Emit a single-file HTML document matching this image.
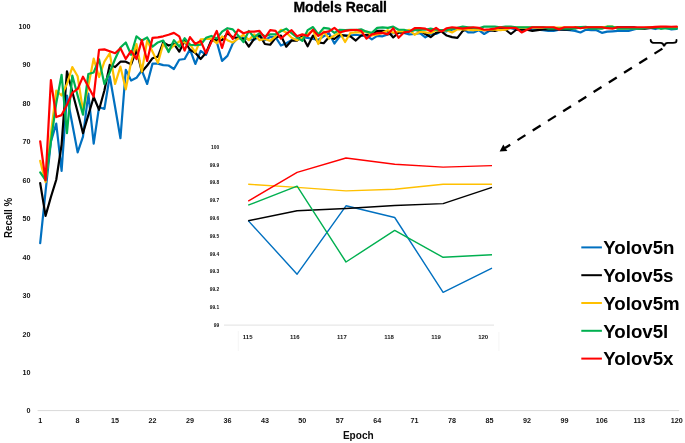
<!DOCTYPE html><html><head><meta charset="utf-8"><style>html,body{margin:0;padding:0;background:#fff;}svg{display:block;filter:blur(0.35px);}</style></head><body>
<svg width="685" height="443" viewBox="0 0 685 443">
<rect width="685" height="443" fill="#fff"/>
<text x="340.2" y="12.0" font-size="14.2" textLength="93.6" lengthAdjust="spacingAndGlyphs" text-anchor="middle" font-family="Liberation Sans, sans-serif" font-weight="bold" fill="#000" stroke="#000" stroke-width="0.3" style="font-family:'Liberation Sans',sans-serif">Models Recall</text>
<text x="30.6" y="413.4" font-size="7.2" text-anchor="end" font-family="Liberation Sans, sans-serif" font-weight="bold" fill="#141414" style="font-family:'Liberation Sans',sans-serif">0</text>
<text x="30.6" y="375.0" font-size="7.2" text-anchor="end" font-family="Liberation Sans, sans-serif" font-weight="bold" fill="#141414" style="font-family:'Liberation Sans',sans-serif">10</text>
<text x="30.6" y="336.5" font-size="7.2" text-anchor="end" font-family="Liberation Sans, sans-serif" font-weight="bold" fill="#141414" style="font-family:'Liberation Sans',sans-serif">20</text>
<text x="30.6" y="298.1" font-size="7.2" text-anchor="end" font-family="Liberation Sans, sans-serif" font-weight="bold" fill="#141414" style="font-family:'Liberation Sans',sans-serif">30</text>
<text x="30.6" y="259.6" font-size="7.2" text-anchor="end" font-family="Liberation Sans, sans-serif" font-weight="bold" fill="#141414" style="font-family:'Liberation Sans',sans-serif">40</text>
<text x="30.6" y="221.2" font-size="7.2" text-anchor="end" font-family="Liberation Sans, sans-serif" font-weight="bold" fill="#141414" style="font-family:'Liberation Sans',sans-serif">50</text>
<text x="30.6" y="182.7" font-size="7.2" text-anchor="end" font-family="Liberation Sans, sans-serif" font-weight="bold" fill="#141414" style="font-family:'Liberation Sans',sans-serif">60</text>
<text x="30.6" y="144.3" font-size="7.2" text-anchor="end" font-family="Liberation Sans, sans-serif" font-weight="bold" fill="#141414" style="font-family:'Liberation Sans',sans-serif">70</text>
<text x="30.6" y="105.8" font-size="7.2" text-anchor="end" font-family="Liberation Sans, sans-serif" font-weight="bold" fill="#141414" style="font-family:'Liberation Sans',sans-serif">80</text>
<text x="30.6" y="67.3" font-size="7.2" text-anchor="end" font-family="Liberation Sans, sans-serif" font-weight="bold" fill="#141414" style="font-family:'Liberation Sans',sans-serif">90</text>
<text x="30.6" y="28.9" font-size="7.2" text-anchor="end" font-family="Liberation Sans, sans-serif" font-weight="bold" fill="#141414" style="font-family:'Liberation Sans',sans-serif">100</text>
<text x="40.2" y="422.9" font-size="7.2" text-anchor="middle" font-family="Liberation Sans, sans-serif" font-weight="bold" fill="#141414" style="font-family:'Liberation Sans',sans-serif">1</text>
<text x="77.6" y="422.9" font-size="7.2" text-anchor="middle" font-family="Liberation Sans, sans-serif" font-weight="bold" fill="#141414" style="font-family:'Liberation Sans',sans-serif">8</text>
<text x="115.1" y="422.9" font-size="7.2" text-anchor="middle" font-family="Liberation Sans, sans-serif" font-weight="bold" fill="#141414" style="font-family:'Liberation Sans',sans-serif">15</text>
<text x="152.5" y="422.9" font-size="7.2" text-anchor="middle" font-family="Liberation Sans, sans-serif" font-weight="bold" fill="#141414" style="font-family:'Liberation Sans',sans-serif">22</text>
<text x="190.0" y="422.9" font-size="7.2" text-anchor="middle" font-family="Liberation Sans, sans-serif" font-weight="bold" fill="#141414" style="font-family:'Liberation Sans',sans-serif">29</text>
<text x="227.4" y="422.9" font-size="7.2" text-anchor="middle" font-family="Liberation Sans, sans-serif" font-weight="bold" fill="#141414" style="font-family:'Liberation Sans',sans-serif">36</text>
<text x="264.9" y="422.9" font-size="7.2" text-anchor="middle" font-family="Liberation Sans, sans-serif" font-weight="bold" fill="#141414" style="font-family:'Liberation Sans',sans-serif">43</text>
<text x="302.3" y="422.9" font-size="7.2" text-anchor="middle" font-family="Liberation Sans, sans-serif" font-weight="bold" fill="#141414" style="font-family:'Liberation Sans',sans-serif">50</text>
<text x="339.7" y="422.9" font-size="7.2" text-anchor="middle" font-family="Liberation Sans, sans-serif" font-weight="bold" fill="#141414" style="font-family:'Liberation Sans',sans-serif">57</text>
<text x="377.2" y="422.9" font-size="7.2" text-anchor="middle" font-family="Liberation Sans, sans-serif" font-weight="bold" fill="#141414" style="font-family:'Liberation Sans',sans-serif">64</text>
<text x="414.6" y="422.9" font-size="7.2" text-anchor="middle" font-family="Liberation Sans, sans-serif" font-weight="bold" fill="#141414" style="font-family:'Liberation Sans',sans-serif">71</text>
<text x="452.1" y="422.9" font-size="7.2" text-anchor="middle" font-family="Liberation Sans, sans-serif" font-weight="bold" fill="#141414" style="font-family:'Liberation Sans',sans-serif">78</text>
<text x="489.5" y="422.9" font-size="7.2" text-anchor="middle" font-family="Liberation Sans, sans-serif" font-weight="bold" fill="#141414" style="font-family:'Liberation Sans',sans-serif">85</text>
<text x="527.0" y="422.9" font-size="7.2" text-anchor="middle" font-family="Liberation Sans, sans-serif" font-weight="bold" fill="#141414" style="font-family:'Liberation Sans',sans-serif">92</text>
<text x="564.4" y="422.9" font-size="7.2" text-anchor="middle" font-family="Liberation Sans, sans-serif" font-weight="bold" fill="#141414" style="font-family:'Liberation Sans',sans-serif">99</text>
<text x="601.8" y="422.9" font-size="7.2" text-anchor="middle" font-family="Liberation Sans, sans-serif" font-weight="bold" fill="#141414" style="font-family:'Liberation Sans',sans-serif">106</text>
<text x="639.3" y="422.9" font-size="7.2" text-anchor="middle" font-family="Liberation Sans, sans-serif" font-weight="bold" fill="#141414" style="font-family:'Liberation Sans',sans-serif">113</text>
<text x="676.7" y="422.9" font-size="7.2" text-anchor="middle" font-family="Liberation Sans, sans-serif" font-weight="bold" fill="#141414" style="font-family:'Liberation Sans',sans-serif">120</text>
<line x1="37.6" y1="410.6" x2="679.2" y2="410.6" stroke="#d9d9d9" stroke-width="1"/>
<text transform="translate(12.1,217.9) rotate(-90)" x="0" y="0" font-size="10.4" textLength="40.2" lengthAdjust="spacingAndGlyphs" text-anchor="middle" font-family="Liberation Sans, sans-serif" font-weight="bold" fill="#0d0d0d" style="font-family:'Liberation Sans',sans-serif">Recall %</text>
<text x="358.3" y="438.8" font-size="10.2" textLength="30.8" lengthAdjust="spacingAndGlyphs" text-anchor="middle" font-family="Liberation Sans, sans-serif" font-weight="bold" fill="#0d0d0d" style="font-family:'Liberation Sans',sans-serif">Epoch</text>
<polyline points="40.20,243.16 45.55,191.64 50.90,141.65 56.25,123.58 61.60,170.87 66.95,95.51 72.29,123.96 77.64,152.42 82.99,136.65 88.34,93.59 93.69,143.57 99.04,107.05 104.39,108.97 109.74,76.29 115.09,107.05 120.44,138.19 125.78,69.75 131.13,80.51 136.48,77.82 141.83,70.52 147.18,83.98 152.53,63.60 157.88,63.60 163.23,65.13 168.58,65.52 173.93,68.98 179.27,59.75 184.62,58.98 189.97,49.37 195.32,63.98 200.67,50.91 206.02,54.75 211.37,40.53 216.72,41.68 222.07,60.91 227.42,55.91 232.76,43.60 238.11,37.45 243.46,37.84 248.81,39.37 254.16,39.76 259.51,36.30 264.86,40.14 270.21,37.07 275.56,37.07 280.91,45.53 286.25,43.22 291.60,40.14 296.95,39.37 302.30,37.07 307.65,37.84 313.00,38.99 318.35,39.76 323.70,36.30 329.05,33.22 334.39,43.60 339.74,36.30 345.09,35.53 350.44,35.53 355.79,34.76 361.14,35.53 366.49,35.53 371.84,39.37 377.19,35.91 382.54,36.30 387.88,34.37 393.23,33.22 398.58,32.45 403.93,32.84 409.28,34.37 414.63,33.99 419.98,33.22 425.33,37.45 430.68,33.99 436.03,33.99 441.38,31.30 446.72,31.30 452.07,29.76 457.42,28.61 462.77,28.61 468.12,32.45 473.47,32.45 478.82,30.15 484.17,33.99 489.52,30.91 494.87,29.38 500.21,28.61 505.56,28.22 510.91,28.22 516.26,29.38 521.61,29.38 526.96,29.38 532.31,29.76 537.66,29.76 543.01,30.15 548.36,30.91 553.70,30.91 559.05,29.76 564.40,29.76 569.75,30.15 575.10,30.91 580.45,32.45 585.80,29.76 591.15,30.15 596.50,30.15 601.85,32.84 607.19,31.68 612.54,31.30 617.89,30.91 623.24,30.91 628.59,30.91 633.94,29.38 639.29,28.22 644.64,28.22 649.99,27.88 655.34,29.03 660.68,27.57 666.03,27.84 671.38,29.41 676.73,28.88" fill="none" stroke="#0070C0" stroke-width="2.2" stroke-linejoin="round" stroke-linecap="round"/>
<polyline points="40.20,183.18 45.55,215.86 50.90,197.02 56.25,179.72 61.60,144.73 66.95,71.29 72.29,91.67 77.64,112.04 82.99,133.19 88.34,115.12 93.69,97.05 99.04,109.74 104.39,90.51 109.74,64.75 115.09,67.06 120.44,61.67 125.78,61.67 131.13,64.37 136.48,49.75 141.83,71.67 147.18,65.52 152.53,58.21 157.88,56.68 163.23,42.45 168.58,45.53 173.93,43.99 179.27,51.68 184.62,40.91 189.97,49.75 195.32,52.83 200.67,58.98 206.02,52.83 211.37,40.14 216.72,40.14 222.07,40.14 227.42,33.22 232.76,37.45 238.11,37.84 243.46,38.99 248.81,46.68 254.16,38.99 259.51,34.76 264.86,43.99 270.21,44.76 275.56,37.84 280.91,35.53 286.25,46.68 291.60,40.53 296.95,40.53 302.30,36.30 307.65,46.29 313.00,35.53 318.35,42.45 323.70,43.22 329.05,37.07 334.39,38.99 339.74,34.76 345.09,35.53 350.44,36.30 355.79,40.53 361.14,35.53 366.49,34.76 371.84,34.76 377.19,30.91 382.54,30.91 387.88,31.30 393.23,37.45 398.58,32.45 403.93,32.45 409.28,31.30 414.63,29.76 419.98,30.91 425.33,33.99 430.68,37.07 436.03,32.84 441.38,31.30 446.72,35.53 452.07,37.07 457.42,37.84 462.77,30.91 468.12,28.22 473.47,29.38 478.82,29.76 484.17,30.15 489.52,30.15 494.87,30.91 500.21,29.38 505.56,29.76 510.91,33.99 516.26,29.76 521.61,29.76 526.96,29.76 532.31,30.91 537.66,30.15 543.01,29.38 548.36,29.38 553.70,29.38 559.05,29.38 564.40,29.76 569.75,29.38 575.10,27.45 580.45,27.45 585.80,27.45 591.15,27.45 596.50,27.45 601.85,27.45 607.19,27.45 612.54,27.45 617.89,27.45 623.24,27.45 628.59,27.45 633.94,27.45 639.29,28.61 644.64,28.61 649.99,27.88 655.34,27.68 660.68,27.61 666.03,27.53 671.38,27.49 676.73,27.15" fill="none" stroke="#000000" stroke-width="2.2" stroke-linejoin="round" stroke-linecap="round"/>
<polyline points="40.20,160.88 45.55,182.02 50.90,133.96 56.25,90.51 61.60,95.51 66.95,83.98 72.29,67.06 77.64,76.29 82.99,110.89 88.34,85.90 93.69,58.60 99.04,77.05 104.39,61.67 109.74,53.22 115.09,83.98 120.44,66.67 125.78,89.36 131.13,62.06 136.48,43.99 141.83,71.67 147.18,40.53 152.53,51.68 157.88,62.83 163.23,43.99 168.58,50.52 173.93,45.53 179.27,41.30 184.62,42.45 189.97,44.37 195.32,52.45 200.67,39.37 206.02,38.99 211.37,38.60 216.72,43.22 222.07,36.30 227.42,40.14 232.76,42.45 238.11,38.60 243.46,34.76 248.81,40.14 254.16,34.37 259.51,40.14 264.86,38.99 270.21,40.91 275.56,36.30 280.91,29.76 286.25,32.45 291.60,37.84 296.95,40.14 302.30,37.84 307.65,34.37 313.00,30.15 318.35,43.99 323.70,31.30 329.05,38.60 334.39,35.53 339.74,32.45 345.09,42.06 350.44,32.84 355.79,32.45 361.14,32.45 366.49,31.30 371.84,35.53 377.19,34.37 382.54,32.84 387.88,30.15 393.23,32.84 398.58,31.30 403.93,31.30 409.28,29.76 414.63,34.76 419.98,31.68 425.33,32.45 430.68,33.22 436.03,30.15 441.38,30.91 446.72,30.15 452.07,32.45 457.42,29.38 462.77,29.38 468.12,29.76 473.47,30.15 478.82,29.76 484.17,30.15 489.52,29.76 494.87,29.76 500.21,30.15 505.56,29.76 510.91,27.65 516.26,27.65 521.61,27.65 526.96,27.65 532.31,27.65 537.66,27.65 543.01,27.65 548.36,27.65 553.70,27.65 559.05,27.65 564.40,27.65 569.75,27.65 575.10,27.65 580.45,27.65 585.80,27.65 591.15,27.65 596.50,27.65 601.85,27.65 607.19,26.68 612.54,26.68 617.89,28.22 623.24,28.22 628.59,28.22 633.94,28.22 639.29,28.22 644.64,27.84 649.99,27.11 655.34,27.18 660.68,27.26 666.03,27.22 671.38,27.11 676.73,27.11" fill="none" stroke="#FFC000" stroke-width="2.2" stroke-linejoin="round" stroke-linecap="round"/>
<polyline points="40.20,172.41 45.55,180.10 50.90,141.65 56.25,103.20 61.60,74.75 66.95,133.19 72.29,75.52 77.64,95.51 82.99,114.74 88.34,73.98 93.69,72.44 99.04,59.37 104.39,83.98 109.74,72.44 115.09,58.98 120.44,47.45 125.78,42.45 131.13,54.75 136.48,36.30 141.83,40.53 147.18,37.45 152.53,46.68 157.88,42.45 163.23,40.53 168.58,52.06 173.93,40.14 179.27,46.68 184.62,38.22 189.97,44.76 195.32,45.14 200.67,44.76 206.02,37.84 211.37,35.91 216.72,38.60 222.07,31.68 227.42,28.22 232.76,29.38 238.11,35.53 243.46,42.06 248.81,30.91 254.16,37.45 259.51,33.22 264.86,36.30 270.21,34.37 275.56,34.37 280.91,31.30 286.25,28.61 291.60,33.22 296.95,37.45 302.30,40.91 307.65,30.15 313.00,27.07 318.35,34.37 323.70,27.84 329.05,28.61 334.39,32.84 339.74,29.76 345.09,30.15 350.44,29.76 355.79,30.15 361.14,29.38 366.49,31.68 371.84,32.84 377.19,27.84 382.54,27.45 387.88,27.84 393.23,26.68 398.58,29.76 403.93,29.76 409.28,31.30 414.63,30.15 419.98,29.76 425.33,29.76 430.68,28.61 436.03,29.76 441.38,30.15 446.72,30.15 452.07,28.61 457.42,27.84 462.77,26.68 468.12,27.26 473.47,27.84 478.82,28.22 484.17,26.68 489.52,26.68 494.87,26.68 500.21,27.26 505.56,26.68 510.91,26.68 516.26,27.26 521.61,27.26 526.96,27.26 532.31,27.26 537.66,27.26 543.01,27.26 548.36,28.61 553.70,28.61 559.05,28.61 564.40,28.61 569.75,28.61 575.10,28.61 580.45,27.07 585.80,26.88 591.15,28.61 596.50,28.61 601.85,28.61 607.19,26.68 612.54,26.68 617.89,28.61 623.24,28.61 628.59,28.61 633.94,28.61 639.29,28.61 644.64,28.22 649.99,27.57 655.34,27.15 660.68,28.80 666.03,28.11 671.38,28.68 676.73,28.61" fill="none" stroke="#00B050" stroke-width="2.2" stroke-linejoin="round" stroke-linecap="round"/>
<polyline points="40.20,141.27 45.55,180.10 50.90,80.13 56.25,117.04 61.60,115.12 66.95,104.74 72.29,92.82 77.64,88.97 82.99,76.67 88.34,86.67 93.69,96.66 99.04,49.75 104.39,49.37 109.74,51.29 115.09,53.22 120.44,48.22 125.78,58.98 131.13,50.91 136.48,58.98 141.83,40.14 147.18,60.91 152.53,37.84 157.88,37.45 163.23,36.30 168.58,34.76 173.93,32.84 179.27,36.30 184.62,50.52 189.97,37.07 195.32,43.99 200.67,40.91 206.02,53.22 211.37,42.06 216.72,30.91 222.07,47.83 227.42,30.53 232.76,38.99 238.11,29.76 243.46,33.22 248.81,31.68 254.16,31.68 259.51,30.91 264.86,37.84 270.21,30.15 275.56,30.91 280.91,38.60 286.25,33.99 291.60,30.15 296.95,36.30 302.30,34.37 307.65,35.91 313.00,29.76 318.35,35.91 323.70,32.45 329.05,31.30 334.39,27.84 339.74,32.45 345.09,30.91 350.44,30.15 355.79,29.76 361.14,30.91 366.49,38.60 371.84,34.37 377.19,33.22 382.54,32.84 387.88,34.37 393.23,28.22 398.58,37.84 403.93,32.45 409.28,31.68 414.63,28.22 419.98,28.22 425.33,28.61 430.68,31.30 436.03,27.84 441.38,31.68 446.72,28.22 452.07,27.26 457.42,27.84 462.77,28.61 468.12,27.84 473.47,27.26 478.82,27.84 484.17,29.76 489.52,29.38 494.87,28.61 500.21,27.26 505.56,27.84 510.91,27.84 516.26,28.22 521.61,32.45 526.96,29.76 532.31,27.26 537.66,27.26 543.01,27.26 548.36,27.26 553.70,27.26 559.05,29.38 564.40,27.26 569.75,27.26 575.10,27.26 580.45,28.22 585.80,27.26 591.15,27.26 596.50,27.26 601.85,27.26 607.19,28.22 612.54,28.61 617.89,27.26 623.24,27.26 628.59,27.26 633.94,27.26 639.29,27.26 644.64,27.26 649.99,27.45 655.34,26.84 660.68,26.53 666.03,26.68 671.38,26.76 676.73,26.72" fill="none" stroke="#FF0000" stroke-width="2.2" stroke-linejoin="round" stroke-linecap="round"/>
<path d="M650.7,39.9 C650.7,42.4 652,42.9 655,42.9 L660.5,42.9 C662.8,42.9 663.6,44 664.1,46.4 C664.6,44 665.4,42.9 667.7,42.9 L673,42.9 C676,42.9 676.5,42.4 676.5,39.9" fill="none" stroke="#000" stroke-width="1.9" stroke-linecap="round"/>
<line x1="662.4" y1="48.6" x2="505.0" y2="148.0" stroke="#000" stroke-width="2.3" stroke-dasharray="9.4 8.6"/>
<path d="M499.6,151.4 L507.3,150.9 L503.3,144.6 Z" fill="#000"/>
<text x="219.2" y="148.7" font-size="4.9" text-anchor="end" font-family="Liberation Sans, sans-serif" font-weight="bold" fill="#141414" style="font-family:'Liberation Sans',sans-serif">100</text>
<text x="219.2" y="166.5" font-size="4.9" text-anchor="end" font-family="Liberation Sans, sans-serif" font-weight="bold" fill="#141414" style="font-family:'Liberation Sans',sans-serif">99.9</text>
<text x="219.2" y="184.3" font-size="4.9" text-anchor="end" font-family="Liberation Sans, sans-serif" font-weight="bold" fill="#141414" style="font-family:'Liberation Sans',sans-serif">99.8</text>
<text x="219.2" y="202.1" font-size="4.9" text-anchor="end" font-family="Liberation Sans, sans-serif" font-weight="bold" fill="#141414" style="font-family:'Liberation Sans',sans-serif">99.7</text>
<text x="219.2" y="219.9" font-size="4.9" text-anchor="end" font-family="Liberation Sans, sans-serif" font-weight="bold" fill="#141414" style="font-family:'Liberation Sans',sans-serif">99.6</text>
<text x="219.2" y="237.7" font-size="4.9" text-anchor="end" font-family="Liberation Sans, sans-serif" font-weight="bold" fill="#141414" style="font-family:'Liberation Sans',sans-serif">99.5</text>
<text x="219.2" y="255.5" font-size="4.9" text-anchor="end" font-family="Liberation Sans, sans-serif" font-weight="bold" fill="#141414" style="font-family:'Liberation Sans',sans-serif">99.4</text>
<text x="219.2" y="273.3" font-size="4.9" text-anchor="end" font-family="Liberation Sans, sans-serif" font-weight="bold" fill="#141414" style="font-family:'Liberation Sans',sans-serif">99.3</text>
<text x="219.2" y="291.1" font-size="4.9" text-anchor="end" font-family="Liberation Sans, sans-serif" font-weight="bold" fill="#141414" style="font-family:'Liberation Sans',sans-serif">99.2</text>
<text x="219.2" y="308.9" font-size="4.9" text-anchor="end" font-family="Liberation Sans, sans-serif" font-weight="bold" fill="#141414" style="font-family:'Liberation Sans',sans-serif">99.1</text>
<text x="219.2" y="326.7" font-size="4.9" text-anchor="end" font-family="Liberation Sans, sans-serif" font-weight="bold" fill="#141414" style="font-family:'Liberation Sans',sans-serif">99</text>
<text x="247.7" y="339.4" font-size="6" text-anchor="middle" font-family="Liberation Sans, sans-serif" font-weight="bold" fill="#141414" style="font-family:'Liberation Sans',sans-serif">115</text>
<text x="294.8" y="339.4" font-size="6" text-anchor="middle" font-family="Liberation Sans, sans-serif" font-weight="bold" fill="#141414" style="font-family:'Liberation Sans',sans-serif">116</text>
<text x="341.9" y="339.4" font-size="6" text-anchor="middle" font-family="Liberation Sans, sans-serif" font-weight="bold" fill="#141414" style="font-family:'Liberation Sans',sans-serif">117</text>
<text x="389.0" y="339.4" font-size="6" text-anchor="middle" font-family="Liberation Sans, sans-serif" font-weight="bold" fill="#141414" style="font-family:'Liberation Sans',sans-serif">118</text>
<text x="436.1" y="339.4" font-size="6" text-anchor="middle" font-family="Liberation Sans, sans-serif" font-weight="bold" fill="#141414" style="font-family:'Liberation Sans',sans-serif">119</text>
<text x="483.2" y="339.4" font-size="6" text-anchor="middle" font-family="Liberation Sans, sans-serif" font-weight="bold" fill="#141414" style="font-family:'Liberation Sans',sans-serif">120</text>
<line x1="224" y1="325.1" x2="494" y2="325.1" stroke="#d9d9d9" stroke-width="0.8"/>
<line x1="238.3" y1="331" x2="238.3" y2="351" stroke="#f2f2f2" stroke-width="0.8"/>
<line x1="498.9" y1="332" x2="498.9" y2="351" stroke="#f2f2f2" stroke-width="0.8"/>
<polyline points="248.2,220.6 297.1,274.2 346.0,205.8 394.7,217.5 443.1,292.3 492.0,268.1" fill="none" stroke="#0070C0" stroke-width="1.4" stroke-linejoin="round"/>
<polyline points="248.2,220.7 297.1,210.8 346.0,208.5 394.7,205.5 443.1,203.6 492.0,187.4" fill="none" stroke="#000000" stroke-width="1.4" stroke-linejoin="round"/>
<polyline points="248.2,184.2 297.1,187.4 346.0,190.9 394.7,189.3 443.1,184.2 492.0,184.2" fill="none" stroke="#FFC000" stroke-width="1.4" stroke-linejoin="round"/>
<polyline points="248.2,205.2 297.1,186.2 346.0,262.0 394.7,230.4 443.1,257.3 492.0,254.8" fill="none" stroke="#00B050" stroke-width="1.4" stroke-linejoin="round"/>
<polyline points="248.2,201.1 297.1,172.3 346.0,158.0 394.7,164.3 443.1,167.1 492.0,165.6" fill="none" stroke="#FF0000" stroke-width="1.4" stroke-linejoin="round"/>
<line x1="581.3" y1="247.4" x2="601.9" y2="247.4" stroke="#0070C0" stroke-width="2"/>
<text x="603.2" y="254.1" font-size="18.1" textLength="71.3" lengthAdjust="spacingAndGlyphs" font-family="Liberation Sans, sans-serif" font-weight="bold" fill="#000" style="font-family:'Liberation Sans',sans-serif">Yolov5n</text>
<line x1="581.3" y1="275.2" x2="601.9" y2="275.2" stroke="#000000" stroke-width="2"/>
<text x="603.2" y="281.9" font-size="18.1" textLength="70.3" lengthAdjust="spacingAndGlyphs" font-family="Liberation Sans, sans-serif" font-weight="bold" fill="#000" style="font-family:'Liberation Sans',sans-serif">Yolov5s</text>
<line x1="581.3" y1="303.0" x2="601.9" y2="303.0" stroke="#FFC000" stroke-width="2"/>
<text x="603.2" y="309.7" font-size="18.1" textLength="76.5" lengthAdjust="spacingAndGlyphs" font-family="Liberation Sans, sans-serif" font-weight="bold" fill="#000" style="font-family:'Liberation Sans',sans-serif">Yolov5m</text>
<line x1="581.3" y1="330.8" x2="601.9" y2="330.8" stroke="#00B050" stroke-width="2"/>
<text x="603.2" y="337.5" font-size="18.1" textLength="65.1" lengthAdjust="spacingAndGlyphs" font-family="Liberation Sans, sans-serif" font-weight="bold" fill="#000" style="font-family:'Liberation Sans',sans-serif">Yolov5l</text>
<line x1="581.3" y1="358.6" x2="601.9" y2="358.6" stroke="#FF0000" stroke-width="2"/>
<text x="603.2" y="365.3" font-size="18.1" textLength="70.3" lengthAdjust="spacingAndGlyphs" font-family="Liberation Sans, sans-serif" font-weight="bold" fill="#000" style="font-family:'Liberation Sans',sans-serif">Yolov5x</text>
</svg></body></html>
